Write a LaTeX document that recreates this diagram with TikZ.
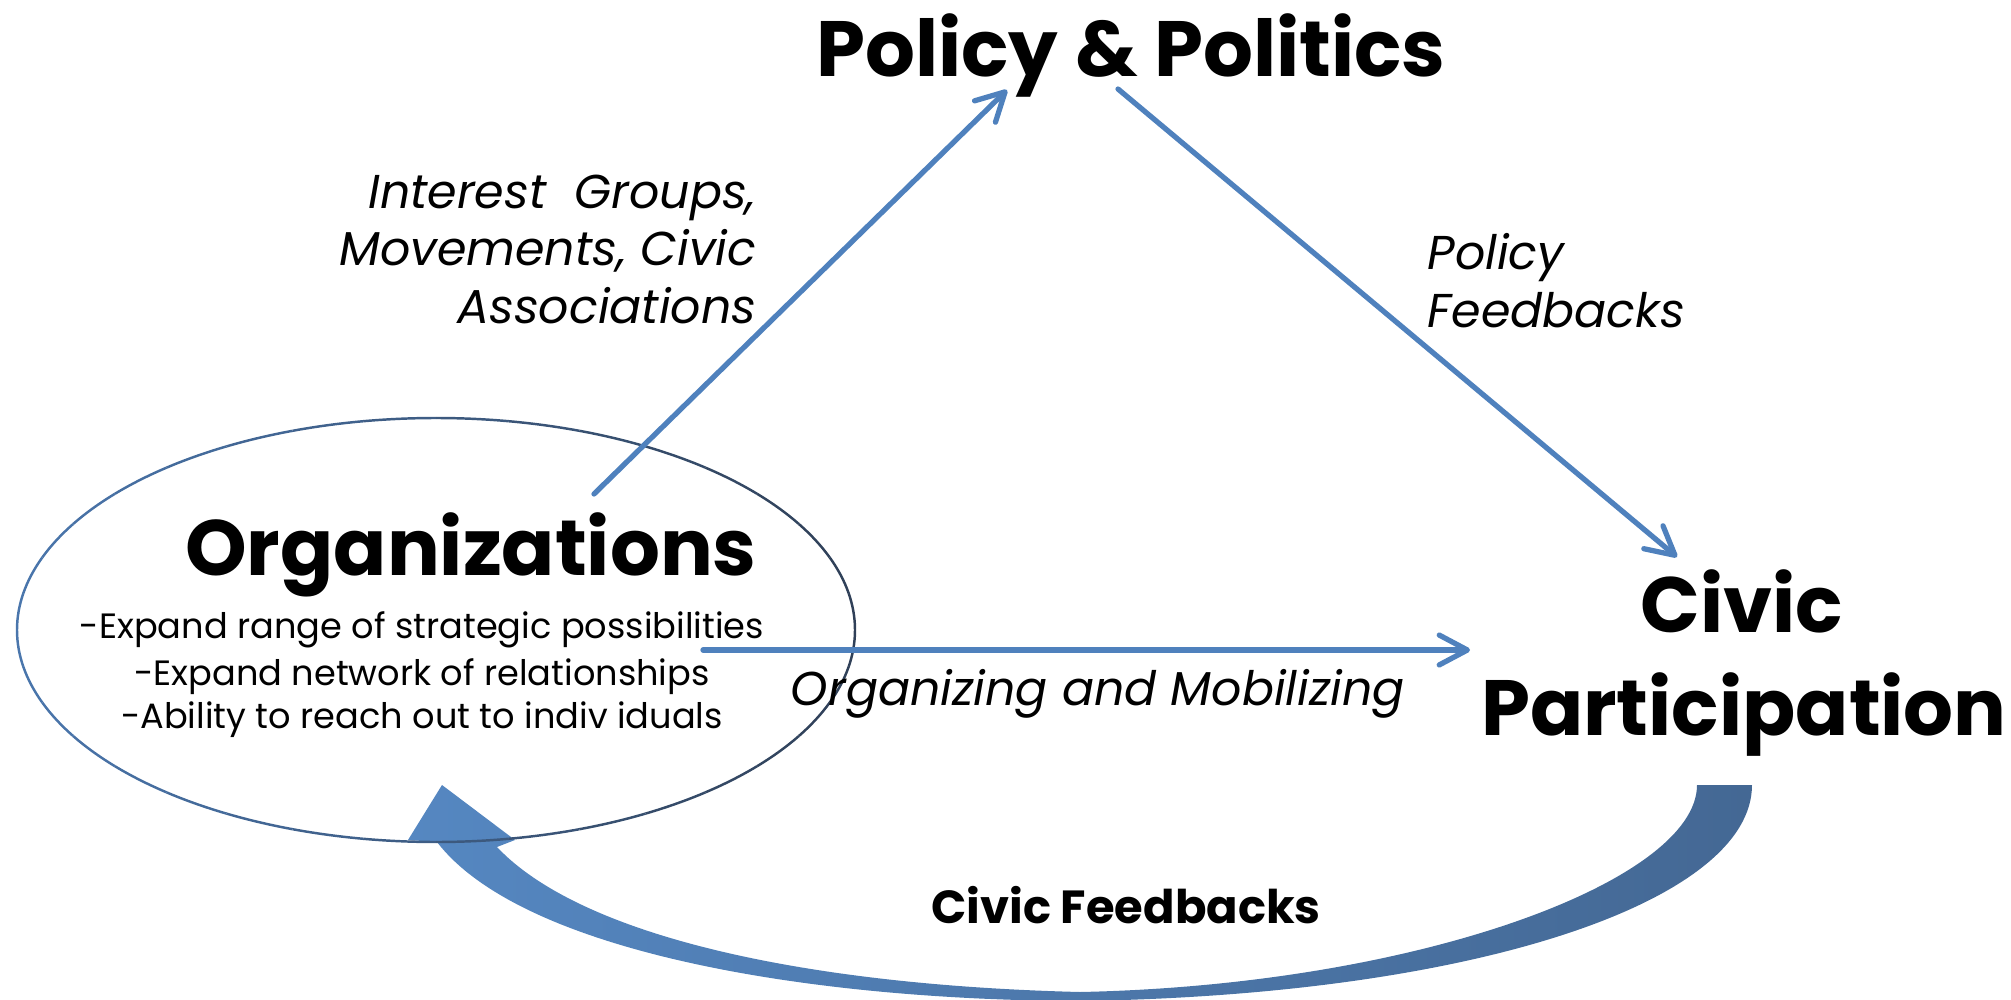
\documentclass[tikz,border=0pt]{standalone}
\usepackage{fontspec}
\setmainfont{Poppins}
\usetikzlibrary{arrows.meta,shapes.geometric,calc}

\definecolor{arrowblue}{RGB}{79,129,189}
\definecolor{loopdark}{RGB}{68,104,148}
\definecolor{looplight}{RGB}{85,135,193}
\definecolor{rimdark}{RGB}{48,64,88}

\begin{document}
\begin{tikzpicture}[x=0.01cm, y=-0.01cm,
  title/.style={font=\fontsize{22.3}{27}\selectfont\bfseries, inner sep=0pt},
  minor/.style={font=\fontsize{10}{12}\selectfont, inner sep=0pt},
  note/.style={font=\fontsize{13.5}{16}\selectfont\itshape, inner sep=0pt},
  flow/.style={arrowblue, line width=1.5pt, line cap=round,
    -{Straight Barb[round, length=8pt, width=8.5pt]}},
  bubble/.style={ellipse, minimum width=8.38cm, minimum height=4.24cm, inner sep=0pt}]
\useasboundingbox (0,0) rectangle (2011,1000);

% feedback loop first, the bubble rim goes over its tip
\shade[left color=looplight, right color=loopdark]
  (1697,785) -- (1752,785)
  .. controls (1752,900) and (1480,995) .. (1080,1001)
  .. controls (800,1000) and (520,950) .. (437,842)
  -- (408,840) -- (442,785) -- (515,840) -- (497,847)
  .. controls (580,935) and (800,985) .. (1080,992)
  .. controls (1420,985) and (1697,880) .. (1697,785) -- cycle;

\node[bubble] (bubble) at (436,630) {};
% rim: blue on the left fading to slate on the right
\foreach \a in {0,10,...,350}{
  \pgfmathsetmacro{\m}{int(42*(1-cos(\a+5)))}
  \draw[arrowblue!\m!rimdark, line width=0.7pt]
    ([shift={(\a:419 and 212)}]bubble.center)
    arc[start angle=\a, end angle=\a+10, x radius=419, y radius=212];
}
\node[title, anchor=base] (orgs) at (471,575) {Organizations};
\node[minor, anchor=base] (orgA) at (422,638) {-Expand range of strategic possibilities};
\node[minor, anchor=base] (orgB) at (422,685) {-Expand network of relationships};
\node[minor, anchor=base] (orgC) at (422,728) {-Ability to reach out to indiv iduals};

\node[title, anchor=base] (policy) at (1131,76) {Policy \& Politics};
\node[title, anchor=base] (civic) at (1742,632) {Civic};
\node[title, anchor=base] (partic) at (1744,735) {Participation};

% edge labels
\node[note, anchor=base east] (groupsA) at (757,208) {Interest\ \ Groups,};
\node[note, anchor=base east] (groupsB) at (757,265) {Movements, Civic};
\node[note, anchor=base east] (groupsC) at (757,323) {Associations};
\node[note, anchor=base west] (fbA) at (1427,269) {Policy};
\node[note, anchor=base west] (fbB) at (1427,327) {Feedbacks};
\node[note, anchor=base] (mobil) at (1098,705) {Organizing and Mobilizing};
\node[font=\fontsize{13.2}{15}\selectfont\bfseries, inner sep=0pt, anchor=base]
  (civfb) at (1126,923) {Civic Feedbacks};

\draw[flow] ($(bubble.center)+(158,-136)$) -- ($(policy.base)+(-124,14)$);
\draw[flow] ($(policy.base)+(-13,13)$) -- ($(civic.base)+(-65,-75)$);
\draw[flow] ($(bubble.center)+(267,20)$) -- ($(civic.base)+(-272,18)$);
\end{tikzpicture}
\end{document}
